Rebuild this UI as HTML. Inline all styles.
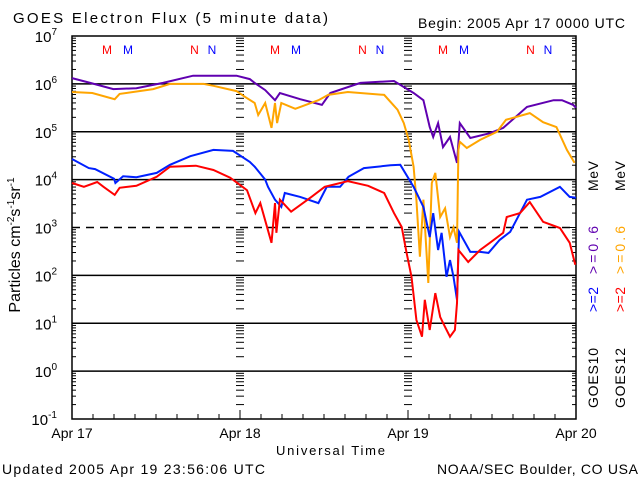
<!DOCTYPE html>
<html><head><meta charset="utf-8"><style>
body{margin:0;background:#fff;}
svg{display:block;font-family:"Liberation Sans",sans-serif;}
</style></head><body>
<svg id="chart" width="640" height="480" viewBox="0 0 640 480" xmlns="http://www.w3.org/2000/svg">
<rect width="640" height="480" fill="#fff"/>
<text x="13" y="23" font-size="15" textLength="315" lengthAdjust="spacing">GOES Electron Flux (5 minute data)</text>
<text x="418" y="28" font-size="14" textLength="207" lengthAdjust="spacing">Begin: 2005 Apr 17 0000 UTC</text>
<text x="2" y="474" font-size="14" textLength="263" lengthAdjust="spacing">Updated 2005 Apr 19 23:56:06 UTC</text>
<text x="437" y="474" font-size="14" textLength="201" lengthAdjust="spacing">NOAA/SEC Boulder, CO USA</text>
<text x="276" y="455" font-size="13" textLength="109" lengthAdjust="spacing">Universal Time</text>
<text transform="translate(20,245) rotate(-90)" font-size="16" text-anchor="middle">Particles cm<tspan font-size="10" dy="-6">-2</tspan><tspan dy="6">s</tspan><tspan font-size="10" dy="-6">-1</tspan><tspan dy="6">sr</tspan><tspan font-size="10" dy="-6">-1</tspan></text>
<g id="legend" font-size="14">
<text transform="translate(598,408) rotate(-90)" textLength="60" lengthAdjust="spacing">GOES10</text>
<text transform="translate(598,312) rotate(-90)" fill="#0000ff" textLength="25" lengthAdjust="spacing">&gt;=2</text>
<text transform="translate(598,274) rotate(-90)" fill="#6000b0" textLength="48" lengthAdjust="spacing">&gt;=0.6</text>
<text transform="translate(598,191) rotate(-90)" textLength="30" lengthAdjust="spacing">MeV</text>
<text transform="translate(625,408) rotate(-90)" textLength="60" lengthAdjust="spacing">GOES12</text>
<text transform="translate(625,312) rotate(-90)" fill="#ff0000" textLength="25" lengthAdjust="spacing">&gt;=2</text>
<text transform="translate(625,274) rotate(-90)" fill="#ffa500" textLength="48" lengthAdjust="spacing">&gt;=0.6</text>
<text transform="translate(625,191) rotate(-90)" textLength="30" lengthAdjust="spacing">MeV</text>
</g>
<g id="axes"></g>
<g id="series"></g>
</svg>
<script>
const dayLabels = ["Apr 17","Apr 18","Apr 19","Apr 20"];
const decades = [7,6,5,4,3,2,1,0,-1];
const markerLabels = ["M","M","N","N"];
const markerHours = [5,8,17.5,20];
const markerColors = ["#ff0000","#0000ff","#ff0000","#0000ff"];

const g10lowHours = [0,2.6,5.9,9.2,13,17.3,23.5,25.4,26.1,27.6,29,29.7,32.6,35.7,36.9,41.2,46,48.8,50.2,51.1,51.6,52.3,53,54,54.5,55,55.4,56.9,59.7,61.6,65,68.8,70,71.6,72];
const g10lowVals = [6.12,6.02,5.89,5.91,6.02,6.17,6.17,6.10,6.02,5.87,5.66,5.81,5.68,5.56,5.81,6.02,6.06,5.81,5.66,5.1,4.89,5.18,4.68,4.89,4.62,4.35,5.18,4.87,4.97,5.08,5.52,5.66,5.66,5.56,5.5];

const g12lowHours = [0,2.9,6.1,6.8,11.6,14,18.8,20.2,23.5,24.7,26.1,26.6,27.6,28.5,29,29.3,29.9,31.9,35.2,36.6,39.4,44.6,46.5,47.4,48.1,48.8,49.2,49.7,50.2,50.9,51.4,51.9,52.6,53.3,54,54.5,55,55.2,55.4,56.4,58.3,60.7,62,65.4,67.3,69.2,70.7,71.8];
const g12lowVals = [5.83,5.81,5.68,5.79,5.89,6.0,6.0,5.96,5.85,5.73,5.6,5.35,5.6,5.08,5.6,5.18,5.6,5.48,5.66,5.77,5.83,5.77,5.46,5.18,4.83,4.27,3.58,2.39,3.58,1.84,3.93,4.14,3.22,3.4,2.8,3.0,2.68,4.62,4.79,4.66,4.83,5.0,5.25,5.39,5.2,5.1,4.62,4.35];

const g10highHours = [0,2.4,3.3,6,6.2,7.3,9.2,12.1,14,16.9,20.2,23,25.4,26.1,27.6,28,29,29.9,30.4,32.6,35.2,36.4,38.3,39.5,41.7,45.5,46.9,48.8,50.2,51.1,51.6,52.3,52.8,53.5,54,54.5,55,55.3,56.9,58.3,59.5,61.1,62.6,65,66.9,69.7,71.1,72];
const g10highVals = [4.43,4.24,4.22,4.02,3.93,4.07,4.05,4.14,4.31,4.49,4.62,4.6,4.37,4.27,4.0,3.85,3.58,3.43,3.72,3.64,3.51,3.85,3.85,4.06,4.24,4.3,4.31,3.85,3.43,2.8,3.3,2.53,2.89,1.97,2.32,1.97,1.49,2.91,2.49,2.49,2.47,2.74,2.91,3.58,3.64,3.85,3.64,3.62];

const g12highHours = [0,1.7,3.6,4.5,6.1,6.8,9.2,12.1,14,17.7,20.2,22.6,24,25,26.2,26.9,28.5,29,29.2,29.7,31.3,34.2,36.1,39.4,42.3,44.6,46,47.1,47.8,48.5,49.2,50,50.4,51.1,51.9,52.6,53.3,54,54.7,55,55.2,56.6,58.3,59.7,61.6,62.1,64,65.4,67.3,69.7,71.1,71.9];
const g12highVals = [3.93,3.85,3.95,3.85,3.68,3.83,3.87,4.06,4.27,4.29,4.2,4.04,3.89,3.78,3.3,3.51,2.68,3.51,2.89,3.58,3.33,3.64,3.85,3.97,3.87,3.72,3.3,3.01,2.47,1.97,1.07,0.72,1.49,0.86,1.63,1.13,0.92,0.72,0.86,1.42,2.53,2.28,2.53,2.68,2.89,3.22,3.3,3.53,3.12,2.99,2.68,2.22];

const X0=72,X1=576,Y0=36,Y1=419;
const xScale = h => X0 + (X1-X0)*h/72;
const yScale = l => Y0 + (7-l)*(Y1-Y0)/8;
const NS="http://www.w3.org/2000/svg";
function mk(tag,attrs,parent){const e=document.createElementNS(NS,tag);for(const k in attrs)e.setAttribute(k,attrs[k]);parent.appendChild(e);return e;}
const axes=document.getElementById('axes');
const series=document.getElementById('series');

decades.forEach(d=>{
  const y=yScale(d);
  if(d<7 && d>-1){
    const ln=mk('line',{x1:X0,x2:X1,y1:y,y2:y,stroke:'#000','stroke-width':1.5},axes);
    
    
    if(d===3) ln.setAttribute('stroke-dasharray','8,6');
  }
  const t=mk('text',{x:57,y:y+6,'font-size':15,'text-anchor':'end'},axes);
  t.textContent='10';
  
  
  const s=mk('tspan',{'font-size':10,dy:-7},t);
  s.textContent=String(d);
});
for(let d=-1; d<7; d++){
  for(let m=2;m<=9;m++){
    const y=yScale(d+Math.log10(m));
    [[X0,X0+4],[X1-4,X1],[xScale(24)-4,xScale(24)+4],[xScale(48)-4,xScale(48)+4]].forEach(p=>{
      const tk=mk('line',{x1:p[0],x2:p[1],y1:y,y2:y,stroke:'#000','stroke-width':1},axes);
      
      
    });
  }
}
[X0,X1].forEach(x=>{[6,5,4,3,2,1,0].forEach(d=>{
  const y=yScale(d);
  const tk=mk('line',{x1:x===X0?X0:X1-8,x2:x===X0?X0+8:X1,y1:y,y2:y,stroke:'#000'},axes);
  
  
});});
for(let h=0;h<=72;h+=3){
  const x=xScale(h);
  const tk=mk('line',{x1:x,x2:x,y1:Y1,y2:Y1-(h%24===0?9:5),stroke:'#000'},axes);
  
  
}
dayLabels.forEach((lab,i)=>{
  const t=mk('text',{x:xScale(i*24),y:438,'font-size':14,'text-anchor':'middle'},axes);
  t.textContent=lab;
  
  
});
for(let day=0;day<3;day++){
  markerLabels.forEach((lab,i)=>{
    const t=mk('text',{x:xScale(day*24+markerHours[i]),y:54,'font-size':12,'text-anchor':'middle',fill:markerColors[i]},axes);
    t.textContent=lab;
    
    
  });
}
const fr=mk('rect',{x:X0,y:Y0,width:X1-X0,height:Y1-Y0,fill:'none',stroke:'#000','stroke-width':1.5},axes);



function draw(hours,vals,color,name){
  let d='';
  hours.forEach((h,i)=>{d+=(i?'L':'M')+xScale(h).toFixed(1)+','+yScale(vals[i]).toFixed(1);});
  const p=mk('path',{d:d,fill:'none',stroke:color,'stroke-width':2,'stroke-linejoin':'miter'},series);
  
  
}
draw(g10lowHours,g10lowVals,'#6000b0','series-goes10-0.6mev');
draw(g12lowHours,g12lowVals,'#ffa500','series-goes12-0.6mev');
draw(g10highHours,g10highVals,'#0020ff','series-goes10-2mev');
draw(g12highHours,g12highVals,'#ff0000','series-goes12-2mev');
</script>
</body></html>
